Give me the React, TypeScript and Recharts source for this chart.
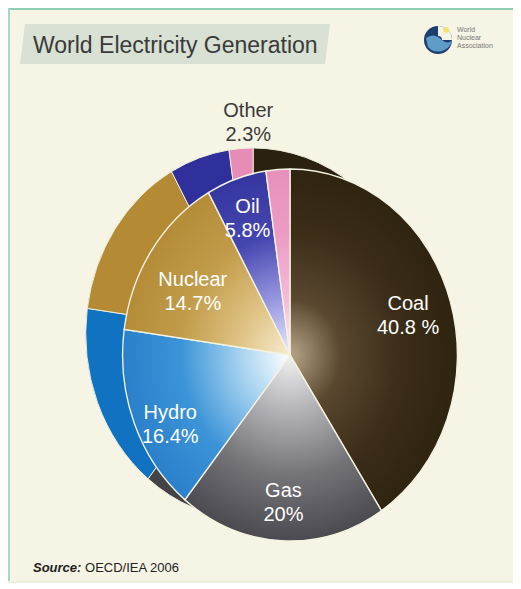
import React from "react";
import { Cell, Pie, PieChart } from "recharts";

// share of world electricity generation, OECD/IEA 2006
const sources = ["Coal", "Gas", "Hydro", "Nuclear", "Oil", "Other"];
const shares = [40.8, 20, 16.4, 14.7, 5.8, 2.3];
const shareLabels = ["40.8 %", "20%", "16.4%", "14.7%", "5.8%", "2.3%"];

const data = sources.map((name, i) => ({
  name,
  value: shares[i],
  label: shareLabels[i],
}));

// top face gradients: [center, middle, edge]
const faceStops: Record<string, [string, string, string, string]> = {
  Coal: ["#b8a688", "#5a4830", "#3c2e19", "#2f2410"],
  Gas: ["#f2f2f2", "#b4b4b8", "#737378", "#4a4a50"],
  Hydro: ["#ffffff", "#a6d2f0", "#3c94d8", "#2a80ca"],
  Nuclear: ["#f6ecd0", "#e0c486", "#c29c4a", "#b48c38"],
  Oil: ["#ececff", "#9a9ae0", "#4646b0", "#3636a0"],
  Other: ["#fff0f8", "#f4bcd8", "#ec9cc4", "#e690bc"],
};

const rimColors: Record<string, string> = {
  Coal: "#2a2110",
  Gas: "#444448",
  Hydro: "#1272c2",
  Nuclear: "#b48a34",
  Oil: "#30309c",
  Other: "#e68cb6",
};

const labelPlace: Record<string, { r: number; turn: number }> = {
  Coal: { r: 0.74, turn: 1 },
  Gas: { r: 0.78, turn: 0 },
  Hydro: { r: 0.8, turn: 5 },
  Nuclear: { r: 0.68, turn: 3 },
  Oil: { r: 0.79, turn: 0 },
  Other: { r: 1.29, turn: 7 },
};

const W = 513;
const H = 575;
const CX = 282;
const CY = 347;
const R = 186;
const SX = 0.9; // squash the disc into an ellipse
const FONT = "'Liberation Sans', Arial, sans-serif";
const RADIAN = Math.PI / 180;

const renderLabel = (props: any) => {
  const { cx, cy, midAngle, outerRadius, payload, name } = props;
  const key = payload?.name ?? name;
  const place = labelPlace[key];
  const a = (midAngle + place.turn) * RADIAN;
  const r = outerRadius * place.r;
  const x = cx + r * Math.cos(-a);
  const y = cy + r * Math.sin(-a);
  const fill = key === "Other" ? "#3a3a3a" : "#ffffff";
  return (
    <g transform={`translate(${x},${y}) scale(${1 / SX},1)`}>
      <text x={0} y={-3} textAnchor="middle" fill={fill} fontSize={20} fontFamily={FONT}>
        {key}
      </text>
      <text x={0} y={21} textAnchor="middle" fill={fill} fontSize={20} fontFamily={FONT}>
        {payload?.label}
      </text>
    </g>
  );
};

const Logo = () => (
  <svg width={100} height={40} style={{ position: "absolute", left: 412, top: 12 }}>
    <circle cx={18} cy={20} r={14} fill="#1d3f70" />
    <path d="M18 6 A14 14 0 0 1 32 20 L22 20 A4 4 0 0 0 18 16 Z" fill="#f6f4e4" />
    <path d="M6 18 Q14 12 22 20 Q28 25 32 20 A14 14 0 0 1 8 27 Z" fill="#5f9cc8" />
    <circle cx={26} cy={10} r={3} fill="#f3e27a" />
    <text x={37} y={12} fontSize={7} fill="#777" fontFamily={FONT}>World</text>
    <text x={37} y={20} fontSize={7} fill="#777" fontFamily={FONT}>Nuclear</text>
    <text x={37} y={28} fontSize={7} fill="#777" fontFamily={FONT}>Association</text>
  </svg>
);

export default function App() {
  return (
    <div
      style={{
        position: "relative",
        width: W,
        height: H,
        background: "#f6f4e4",
        overflow: "hidden",
        fontFamily: FONT,
      }}
    >
      <div style={{ position: "absolute", left: 0, top: 0, width: W, height: 2, background: "#8fcdb2" }} />
      <div style={{ position: "absolute", left: 0, top: 0, width: 2, height: H, background: "#a6d8c4" }} />
      <div style={{ position: "absolute", left: 0, top: H - 2, width: W, height: 2, background: "#e8f2dc" }} />

      <svg width={330} height={60} style={{ position: "absolute", left: 0, top: 0 }}>
        <polygon points="17,16 322,16 317,56 12,56" fill="#d8e1d3" />
        <text x={25} y={45} fontSize={23} fill="#3a3a3a" fontFamily={FONT}>
          World Electricity Generation
        </text>
      </svg>

      <Logo />

      <div
        style={{
          position: "absolute",
          left: 0,
          top: 0,
          width: W,
          height: H,
          transform: `scaleX(${SX})`,
          transformOrigin: `${CX}px ${CY}px`,
        }}
      >
        <PieChart width={W} height={H} margin={{ top: 0, right: 0, bottom: 0, left: 0 }}>
          <defs>
            {sources.map((s) => (
              <radialGradient
                key={s}
                id={`face-${s}`}
                gradientUnits="userSpaceOnUse"
                cx={CX}
                cy={CY}
                r={R}
              >
                <stop offset="0" stopColor={faceStops[s][0]} />
                <stop offset="0.3" stopColor={faceStops[s][1]} />
                <stop offset="0.65" stopColor={faceStops[s][2]} />
                <stop offset="1" stopColor={faceStops[s][3]} />
              </radialGradient>
            ))}
          </defs>
          <Pie
            data={data}
            dataKey="value"
            nameKey="name"
            cx={CX - 41}
            cy={CY - 21}
            outerRadius={R}
            startAngle={90}
            endAngle={-270}
            stroke="#efeedd"
            strokeWidth={1}
            isAnimationActive={false}
          >
            {data.map((d) => (
              <Cell key={d.name} fill={rimColors[d.name]} />
            ))}
          </Pie>
          <Pie
            data={data}
            dataKey="value"
            nameKey="name"
            cx={CX}
            cy={CY}
            outerRadius={R}
            startAngle={90}
            endAngle={-270}
            stroke="#f4f2e0"
            strokeWidth={1.5}
            label={renderLabel}
            labelLine={false}
            isAnimationActive={false}
          >
            {data.map((d) => (
              <Cell key={d.name} fill={`url(#face-${d.name})`} />
            ))}
          </Pie>
        </PieChart>
      </div>

      <div style={{ position: "absolute", left: 25, top: 552, fontSize: 13, color: "#222" }}>
        <b>
          <i>Source:</i>
        </b>{" "}
        OECD/IEA 2006
      </div>
    </div>
  );
}
